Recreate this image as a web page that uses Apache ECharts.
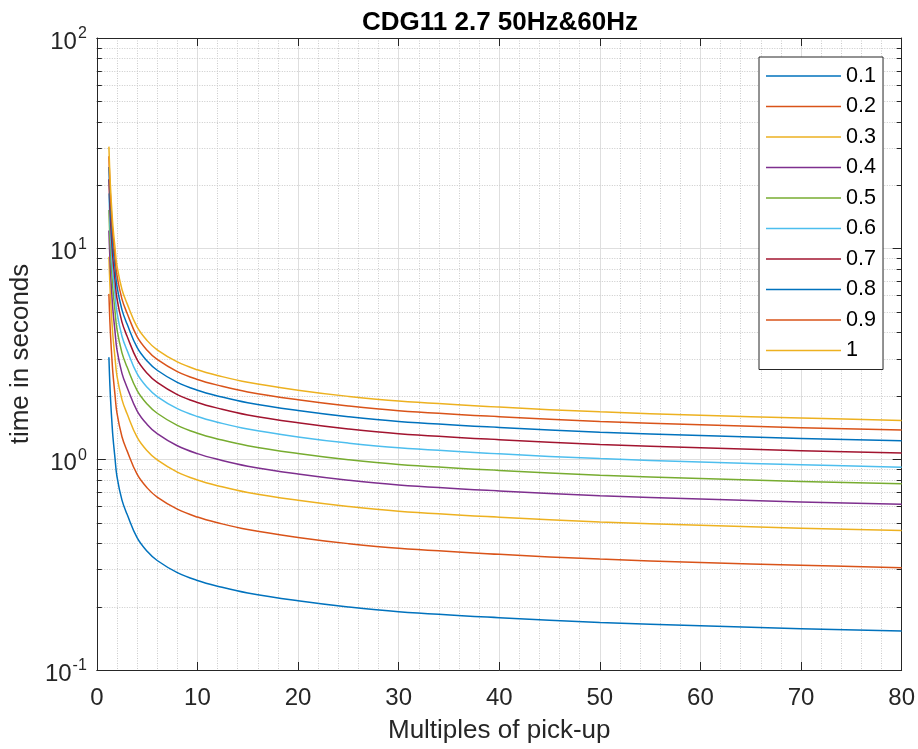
<!DOCTYPE html>
<html>
<head>
<meta charset="utf-8">
<script src="https://cdn.jsdelivr.net/npm/echarts@6/dist/echarts.min.js"></script>
<style>
html,body{margin:0;padding:0;background:#fff;}
#chart{width:918px;height:749px;}
</style>
</head>
<body>
<div id="chart"></div>
<script>
// Multiples of pick-up (x values shared by all curves)
const xValues = [1.2, 1.3, 1.4, 1.5, 1.6, 1.8, 2, 2.5, 3, 4, 5, 6, 8, 10, 12, 15, 20, 25, 30, 40, 50, 60, 70, 80];

// Operating time (s) for each time multiplier setting
const t01 = [3.05, 2.25, 1.80, 1.50, 1.28, 1.02, 0.83, 0.64, 0.55, 0.425, 0.366, 0.331, 0.290, 0.266, 0.250, 0.232, 0.213, 0.199, 0.189, 0.177, 0.168, 0.162, 0.157, 0.153];
const t02 = [6.10, 4.50, 3.60, 3.00, 2.56, 2.04, 1.66, 1.28, 1.10, 0.850, 0.732, 0.662, 0.580, 0.532, 0.500, 0.464, 0.426, 0.398, 0.378, 0.354, 0.336, 0.324, 0.314, 0.306];
const t03 = [9.15, 6.75, 5.40, 4.50, 3.84, 3.06, 2.49, 1.92, 1.65, 1.275, 1.098, 0.993, 0.870, 0.798, 0.750, 0.696, 0.639, 0.597, 0.567, 0.531, 0.504, 0.486, 0.471, 0.459];
const t04 = [12.2, 9.00, 7.20, 6.00, 5.12, 4.08, 3.32, 2.56, 2.20, 1.70, 1.464, 1.324, 1.160, 1.064, 1.000, 0.928, 0.852, 0.796, 0.756, 0.708, 0.672, 0.648, 0.628, 0.612];
const t05 = [15.25, 11.25, 9.00, 7.50, 6.40, 5.10, 4.15, 3.20, 2.75, 2.125, 1.83, 1.655, 1.45, 1.33, 1.25, 1.16, 1.065, 0.995, 0.945, 0.885, 0.84, 0.81, 0.785, 0.765];
const t06 = [18.3, 13.5, 10.8, 9.00, 7.68, 6.12, 4.98, 3.84, 3.30, 2.55, 2.196, 1.986, 1.74, 1.596, 1.50, 1.392, 1.278, 1.194, 1.134, 1.062, 1.008, 0.972, 0.942, 0.918];
const t07 = [21.35, 15.75, 12.6, 10.5, 8.96, 7.14, 5.81, 4.48, 3.85, 2.975, 2.562, 2.317, 2.03, 1.862, 1.75, 1.624, 1.491, 1.393, 1.323, 1.239, 1.176, 1.134, 1.099, 1.071];
const t08 = [24.4, 18.0, 14.4, 12.0, 10.24, 8.16, 6.64, 5.12, 4.40, 3.40, 2.928, 2.648, 2.32, 2.128, 2.00, 1.856, 1.704, 1.592, 1.512, 1.416, 1.344, 1.296, 1.256, 1.224];
const t09 = [27.45, 20.25, 16.2, 13.5, 11.52, 9.18, 7.47, 5.76, 4.95, 3.825, 3.294, 2.979, 2.61, 2.394, 2.25, 2.088, 1.917, 1.791, 1.701, 1.593, 1.512, 1.458, 1.413, 1.377];
const t10 = [30.5, 22.5, 18.0, 15.0, 12.8, 10.2, 8.3, 6.4, 5.5, 4.25, 3.66, 3.31, 2.90, 2.66, 2.50, 2.32, 2.13, 1.99, 1.89, 1.77, 1.68, 1.62, 1.57, 1.53];

const seriesNames = ['0.1', '0.2', '0.3', '0.4', '0.5', '0.6', '0.7', '0.8', '0.9', '1'];
const seriesValues = [t01, t02, t03, t04, t05, t06, t07, t08, t09, t10];

// x axis tick labels
const xTicks = [0, 10, 20, 30, 40, 50, 60, 70, 80];
// y axis minor tick values (log axis)
const yMinorTicks = [0.2, 0.3, 0.4, 0.5, 0.6, 0.7, 0.8, 0.9, 2, 3, 4, 5, 6, 7, 8, 9, 20, 30, 40, 50, 60, 70, 80, 90];

const colors = ['#0072BD', '#D95319', '#EDB120', '#7E2F8E', '#77AC30', '#4DBEEE', '#A2142F', '#0072BD', '#D95319', '#EDB120'];

const FONT = 'Liberation Sans';
const AX = '#262626';
const MAJOR_GRID = '#dedede';
const MINOR_GRID = '#cacaca';

const chart = echarts.init(document.getElementById('chart'), null, {renderer: 'canvas'});

const lineSeries = seriesNames.map((name, i) => ({
  name: name,
  type: 'line',
  xAxisIndex: 0,
  yAxisIndex: 0,
  data: xValues.map((x, j) => [x, seriesValues[i][j]]),
  showSymbol: false,
  smooth: 0.4,
  lineStyle: {width: 1.5, color: colors[i]},
  itemStyle: {color: colors[i]},
  z: 5,
  silent: true
}));

const minorSeries = {
  name: 'minorY',
  type: 'custom',
  xAxisIndex: 0,
  yAxisIndex: 0,
  silent: true,
  z: 1,
  data: yMinorTicks.map(v => [0, v]),
  renderItem: function (params, api) {
    const cs = params.coordSys;
    const y = Math.round(api.coord([0, api.value(1)])[1]) + 0.5;
    return {
      type: 'group',
      children: [
        {type: 'line', shape: {x1: cs.x, y1: y, x2: cs.x + cs.width, y2: y},
         style: {stroke: MINOR_GRID, lineWidth: 1, lineDash: [1, 1.5]}},
        {type: 'line', shape: {x1: cs.x, y1: y, x2: cs.x + 5, y2: y},
         style: {stroke: AX, lineWidth: 1}},
        {type: 'line', shape: {x1: cs.x + cs.width - 5, y1: y, x2: cs.x + cs.width, y2: y},
         style: {stroke: AX, lineWidth: 1}}
      ]
    };
  }
};

const yLabelFormatter = function (v) {
  const e = Math.round(Math.log10(v));
  return '{b|10}{s|' + e + '}';
};

const option = {
  animation: false,
  backgroundColor: '#ffffff',
  title: {
    text: 'CDG11 2.7 50Hz&60Hz',
    left: 500,
    top: 10,
    padding: 0,
    textAlign: 'center',
    textStyle: {fontFamily: FONT, fontSize: 26, fontWeight: 'bold', color: '#000'}
  },
  grid: {left: 96, right: 14, top: 38, bottom: 75, containLabel: false},
  legend: {
    data: seriesNames,
    orient: 'vertical',
    left: 759,
    top: 57,
    padding: [8, 7, 8, 7],
    itemWidth: 75,
    itemHeight: 1.5,
    itemGap: 8.5,
    icon: 'rect',
    backgroundColor: '#ffffff',
    borderColor: AX,
    borderWidth: 1,
    borderRadius: 0,
    textStyle: {fontFamily: FONT, fontSize: 21.6, color: '#000', lineHeight: 22},
    selectedMode: false
  },
  xAxis: [
    {
      type: 'value', position: 'bottom', min: 0, max: 80, interval: 10,
      name: 'Multiples of pick-up', nameLocation: 'middle', nameGap: 48,
      nameTextStyle: {fontFamily: FONT, fontSize: 26, color: AX},
      axisLine: {show: true, onZero: false, lineStyle: {color: AX, width: 1}},
      axisTick: {show: true, inside: true, length: 8, lineStyle: {color: AX, width: 1}},
      axisLabel: {show: true, margin: 16, fontFamily: FONT, fontSize: 24, color: AX,
        formatter: function (v) { return xTicks.indexOf(v) >= 0 ? String(v) : ''; }},
      splitLine: {show: true, lineStyle: {color: MAJOR_GRID, width: 1}},
      minorTick: {show: false, splitNumber: 5},
      minorSplitLine: {show: true, lineStyle: {color: MINOR_GRID, width: 1, type: [1, 1.5]}}
    },
    {
      type: 'value', position: 'top', min: 0, max: 80, interval: 10,
      axisLine: {show: true, onZero: false, lineStyle: {color: AX, width: 1}},
      axisTick: {show: true, inside: true, length: 8, lineStyle: {color: AX, width: 1}},
      axisLabel: {show: false},
      splitLine: {show: false}
    }
  ],
  yAxis: [
    {
      type: 'log', logBase: 10, min: 0.1, max: 100, position: 'left', splitNumber: 3,
      name: 'time in seconds', nameLocation: 'middle', nameGap: 62,
      nameTextStyle: {fontFamily: FONT, fontSize: 26, color: AX},
      axisLine: {show: true, onZero: false, lineStyle: {color: AX, width: 1}},
      axisTick: {show: true, inside: true, length: 9, lineStyle: {color: AX, width: 1}},
      axisLabel: {
        show: true, margin: 10, color: AX, formatter: yLabelFormatter,
        rich: {
          b: {fontFamily: FONT, fontSize: 24, color: AX, lineHeight: 32, verticalAlign: 'bottom'},
          s: {fontFamily: FONT, fontSize: 16, color: AX, lineHeight: 32, verticalAlign: 'top', padding: [4, 0, 0, 1]}
        }
      },
      splitLine: {show: true, lineStyle: {color: MAJOR_GRID, width: 1}}
    },
    {
      type: 'log', logBase: 10, min: 0.1, max: 100, position: 'right', splitNumber: 3,
      axisLine: {show: true, onZero: false, lineStyle: {color: AX, width: 1}},
      axisTick: {show: true, inside: true, length: 9, lineStyle: {color: AX, width: 1}},
      axisLabel: {show: false},
      splitLine: {show: false}
    }
  ],
  series: [minorSeries].concat(lineSeries)
};

chart.setOption(option);
</script>
</body>
</html>
